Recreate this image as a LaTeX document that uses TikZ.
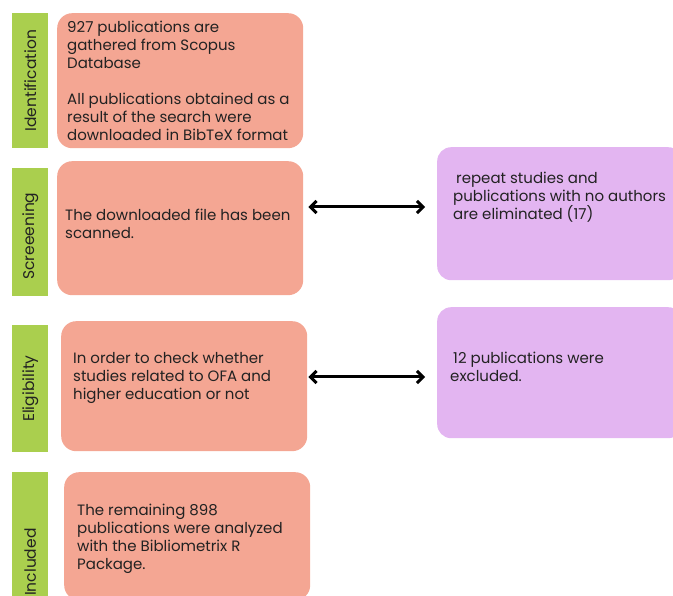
\documentclass[tikz,border=0pt]{standalone}
\usepackage{fontspec}
\setmainfont{Poppins}
\usetikzlibrary{arrows.meta,positioning}

\definecolor{salmon}{HTML}{F4A693}
\definecolor{leaf}{HTML}{AACF4E}
\definecolor{lilac}{HTML}{E3B5F1}
\definecolor{ink}{HTML}{222222}

\tikzset{
  stagebar/.style={fill=leaf, inner sep=0, anchor=north west, minimum width=36pt},
  stagelabel/.style={rotate=90, inner sep=0, text=ink, font=\fontsize{15.5}{18}\selectfont},
  stepbox/.style={fill=salmon, rounded corners=15pt, inner sep=0, anchor=north west, minimum width=246pt},
  cutbox/.style={fill=lilac, rounded corners=14pt, inner sep=0, anchor=north west, minimum width=245pt},
  boxtext/.style={anchor=north west, inner sep=0, align=left, text=ink, font=\fontsize{15}{18}\selectfont},
  link/.style={{Straight Barb[length=6pt,width=12pt,line width=3pt]}-{Straight Barb[length=6pt,width=12pt,line width=3pt]}, line width=3pt, black}
}

\begin{document}
\begin{tikzpicture}[x=1pt, y=-1pt]
\useasboundingbox (0,0) rectangle (673,596);
\clip (0,0) rectangle (673,596);

\node[stagebar, minimum height=135pt] (idbar) at (12,13) {};
\node[stagelabel] (idlab) at (idbar) {Identification};
\node[stagebar, minimum height=128pt] (scrbar) at (12,168) {};
\node[stagelabel] (scrlab) at ([yshift=-4pt]scrbar.center) {Screeening};
\node[stagebar, minimum height=127pt] (elibar) at (12,325) {};
\node[stagelabel] (elilab) at (elibar) {Eligibility};
\node[stagebar, minimum height=180pt] (incbar) at (12,472) {};
\node[stagelabel] (inclab) at (incbar) {Included};

\node[stepbox, minimum height=135pt] (idbox) at (57,13) {};
\node[boxtext] (idtxt) at (67,21) {927 publications are\\gathered from Scopus\\Database\\[18pt]All publications obtained as a\\result of the search were\\downloaded in BibTeX format};

\node[stepbox, minimum height=134pt] (scrbox) at (57,161) {};
\node[boxtext] (scrtxt) at (65,209) {The downloaded file has been\\scanned.};

\node[stepbox, minimum height=130pt] (elibox) at (61,321) {};
\node[boxtext] (elitxt) at (73,352) {In order to check whether\\studies related to OFA and\\higher education or not};

\node[stepbox, minimum height=128pt] (incbox) at (64,472) {};
\node[boxtext] (inctxt) at (77,504) {The remaining 898\\publications were analyzed\\with the Bibliometrix R\\Package.};

\node[cutbox, minimum height=133pt] (dupbox) at (437,147) {};
\node[boxtext] (duptxt) at (453,172) {\hspace{3pt}repeat studies and\\publications with no authors\\are eliminated (17)};

\node[cutbox, minimum height=131pt] (excbox) at (437,307) {};
\node[boxtext] (exctxt) at (450,352) {\hspace{3pt}12 publications were\\excluded.};

\draw[link] ([xshift=5pt]scrbox.east |- 0,207) -- ([xshift=-12pt]dupbox.west |- 0,207);
\draw[link] ([xshift=1pt]elibox.east |- 0,377) -- ([xshift=-12pt]excbox.west |- 0,377);
\end{tikzpicture}
\end{document}
